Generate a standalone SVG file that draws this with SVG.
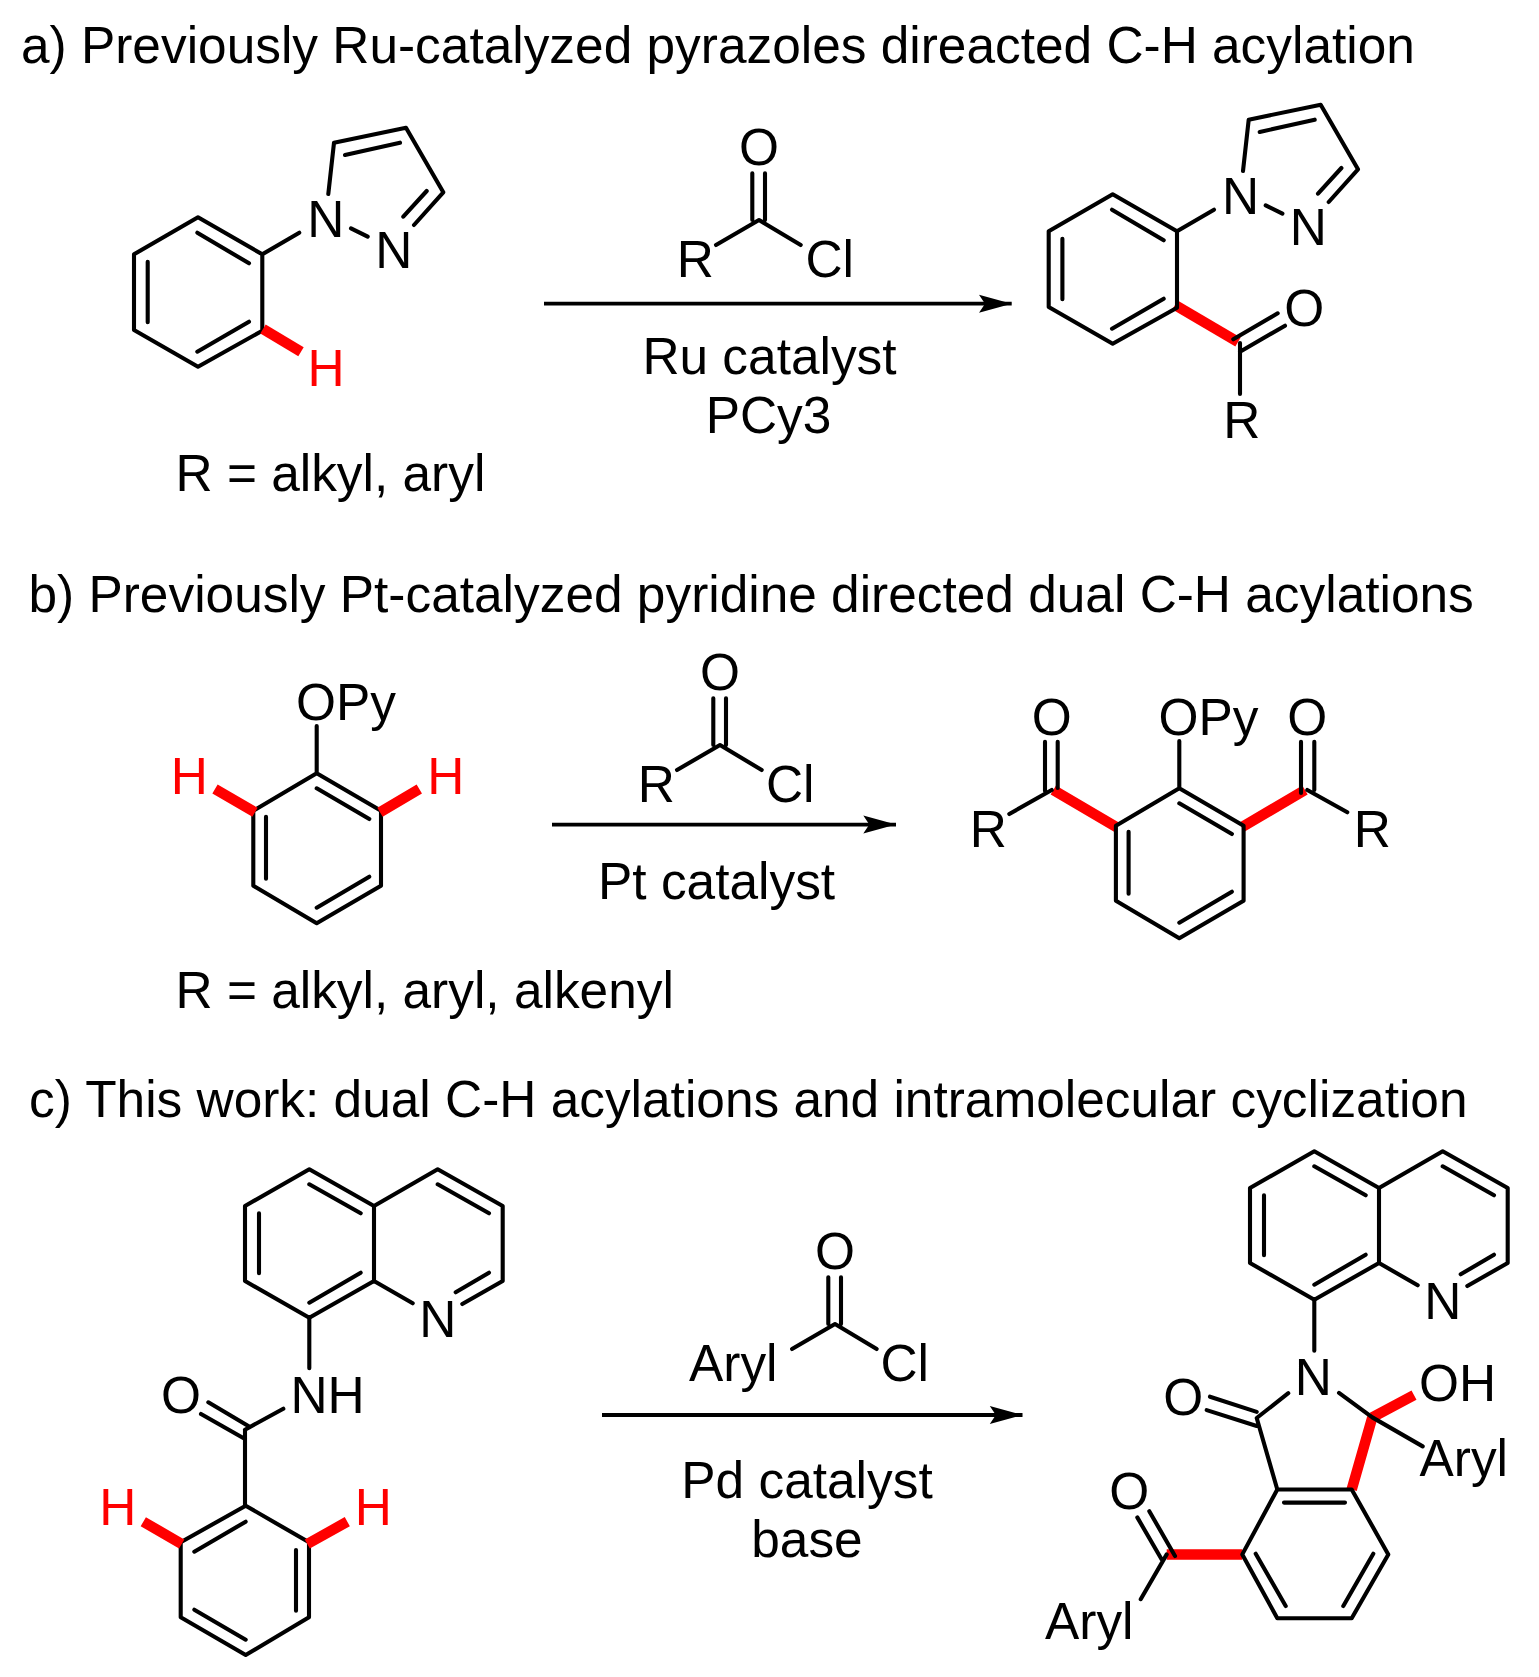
<svg xmlns="http://www.w3.org/2000/svg" width="1539" height="1677" viewBox="0 0 1539 1677">
<style>
text{font-family:"Liberation Sans",Arial,sans-serif;font-size:51.4px;fill:#000}
.m{text-anchor:middle}
.h{fill:#f00}
.b{fill:none;stroke:#000;stroke-width:4.1;stroke-linejoin:round;stroke-linecap:round}
.r{fill:none;stroke:#f00;stroke-width:10.5}
.a{fill:none;stroke:#000;stroke-width:3.8}
</style>
<defs>
<marker id="ah" markerUnits="userSpaceOnUse" markerWidth="34" markerHeight="20" refX="32.7" refY="9" orient="auto" overflow="visible"><path d="M0 0L32.7 9L0 18L6 9Z" fill="#000"/></marker>
<g id="phpz">
<path class="b" d="M198 217.3L262.3 254.3V330.7L198 366.7L134 330V254.3Z M197.3 232.7L249 263.3 M147.7 261.7V322.3 M197.3 351.7L249 321.7 M262.3 254.3L299.3 232.7 M328.3 194L334 142.7L406 127.7L443.3 192.3L414 225 M345 155L400 142.7 M426.7 191L403.3 216.7 M351 228.3L367.7 236.7"/>
<text class="m" x="325.8" y="236.7">N</text>
<text class="m" x="393.7" y="268.3">N</text>
</g>
<g id="ring6">
<path class="b" d="M316.7 773.3L381 810.7V885.7L316.7 923.3L253.3 885.7V810.7Z M316.7 788.3L369.3 819 M266 816.7V878.7 M316.7 907.7L369.3 876.7 M316.7 726V773.3"/>
<text x="296" y="720">OPy</text>
</g>
<g id="quin">
<path class="b" d="M309.3 1169.3L374 1206V1281L309.3 1317.7L245 1281V1206Z M309.3 1184.3L360.7 1213.3 M259 1213.3V1273.3 M309.3 1302.7L360.7 1272.7 M374 1206L437.7 1169.3L502.7 1206V1281L462.3 1304 M374 1281L412.7 1303.3 M437.7 1184.3L489 1213.3 M489 1272.7L455.7 1292.3"/>
<text class="m" x="437.7" y="1336.7">N</text>
</g>
<g id="acyl">
<path class="b" d="M752.3 173.3V220 M765 173.3V220 M716 245L759 220L800.7 245"/>
<text class="m" x="759" y="164.7">O</text>
</g>
</defs>
<rect width="1539" height="1677" fill="#fff"/>

<g id="title-a"><text x="21" y="63">a) Previously Ru-catalyzed pyrazoles direacted C-H acylation</text></g>
<g id="title-b"><text x="28.5" y="611.5">b) Previously Pt-catalyzed pyridine directed dual C-H acylations</text></g>
<g id="title-c"><text x="29" y="1117">c) This work: dual C-H acylations and intramolecular cyclization</text></g>

<g id="substrate-a">
<use href="#phpz"/>
<path class="r" d="M263 329L301 351.7"/>
<text class="m h" x="326" y="386">H</text>
</g>
<g id="note-a"><text x="175.5" y="491">R = alkyl, aryl</text></g>
<g id="reagent-a">
<use href="#acyl"/>
<text class="m" x="695.3" y="277.3">R</text>
<text x="805.5" y="277.3">Cl</text>
</g>
<g id="cond-a">
<text class="m" x="769.5" y="374">Ru catalyst</text>
<text class="m" x="768.5" y="432.7">PCy3</text>
</g>
<g id="product-a">
<path class="r" d="M1175 305L1238 342"/>
<use href="#phpz" transform="translate(914.7,-23)"/>
<path class="b" d="M1240 343V394 M1233.3 339.3L1277.7 313.3 M1240 351.7L1285 325.7"/>
<text class="m" x="1304.3" y="325.7">O</text>
<text class="m" x="1241.7" y="438.3">R</text>
</g>

<g id="substrate-b">
<use href="#ring6"/>
<path class="r" d="M255 812.3L215 789 M380 812.3L419.3 789"/>
<text class="m h" x="189.3" y="794">H</text>
<text class="m h" x="445.7" y="794">H</text>
</g>
<g id="note-b"><text x="175.5" y="1007.5">R = alkyl, aryl, alkenyl</text></g>
<g id="reagent-b">
<use href="#acyl" transform="translate(-39,525)"/>
<text class="m" x="656.3" y="802">R</text>
<text x="766" y="802">Cl</text>
</g>
<g id="cond-b"><text class="m" x="716.6" y="899">Pt catalyst</text></g>
<g id="product-b">
<path class="r" d="M1116.7 827.3L1053.3 790 M1241.7 827.3L1305 790"/>
<use href="#ring6" transform="translate(862.6,15)"/>
<path class="b" d="M1009.3 814L1051.7 790 M1045 741.7V791 M1057.7 741.7V788 M1307.3 790L1347.3 812.3 M1301 741.7V793 M1314.3 741.7V790"/>
<text class="m" x="1051.7" y="734.5">O</text>
<text class="m" x="1307.3" y="734.5">O</text>
<text class="m" x="988.3" y="846.7">R</text>
<text class="m" x="1372.3" y="846.7">R</text>
</g>

<g id="substrate-c">
<use href="#quin"/>
<path class="b" d="M309.3 1317.7V1368.3 M245 1429.7L283.3 1408.7 M245 1429.7V1505.7 M201 1414L245 1439 M208.3 1402.3L250 1427 M245.7 1505.7L309 1542.3V1617.3L245.7 1655L180.7 1617.3V1542.3Z M245.7 1521.7L194.3 1551.7 M296 1550V1610.7 M194.3 1609.7L245.7 1639.7"/>
<path class="r" d="M181.7 1544L143.3 1521.7 M307.3 1544L347.3 1521.7"/>
<text x="290.5" y="1413">NH</text>
<text class="m" x="181" y="1413">O</text>
<text class="m h" x="117.7" y="1525">H</text>
<text class="m h" x="373.3" y="1525">H</text>
</g>
<g id="reagent-c">
<use href="#acyl" transform="translate(76,1104)"/>
<text x="689" y="1381">Aryl</text>
<text x="880.5" y="1381">Cl</text>
</g>
<g id="cond-c">
<text class="m" x="807" y="1497.5">Pd catalyst</text>
<text class="m" x="807" y="1557">base</text>
</g>
<g id="product-c">
<use href="#quin" transform="translate(1005,-18)"/>
<path class="r" d="M1372.3 1417.4L1414 1395 M1372.3 1417.4L1351.7 1489.5 M1242.3 1554.4H1166.7"/>
<path class="b" d="M1314.3 1299.7V1350.8 M1288.3 1393.2L1256.7 1418L1277.3 1489.5 M1210 1396.7L1256.7 1411.9 M1206.7 1410.1L1256.7 1426 M1339 1392.9L1372.3 1417.4L1422.7 1446.4 M1277.3 1489.5H1351.7L1388.3 1554.4L1351.7 1618.2H1277.3L1242.3 1554.4Z M1284 1502.6H1345 M1373.3 1553.7L1343.3 1606 M1255.7 1553.7L1285.7 1606 M1137.3 1517.4L1161.7 1559.5 M1149.3 1511.2L1175 1556 M1166.7 1554.4L1140.7 1599.2"/>
<text class="m" x="1313.3" y="1395">N</text>
<text class="m" x="1183.3" y="1414.6">O</text>
<text class="m" x="1129.3" y="1508.8">O</text>
<text x="1419" y="1400.8">OH</text>
<text x="1419.5" y="1476">Aryl</text>
<text x="1045" y="1638.9">Aryl</text>
</g>

<g id="connectors">
<path class="a" d="M544 303.7H1011.7" marker-end="url(#ah)"/>
<path class="a" d="M552 824.6H896" marker-end="url(#ah)"/>
<path class="a" d="M602 1415H1022.5" marker-end="url(#ah)"/>
</g>
</svg>
